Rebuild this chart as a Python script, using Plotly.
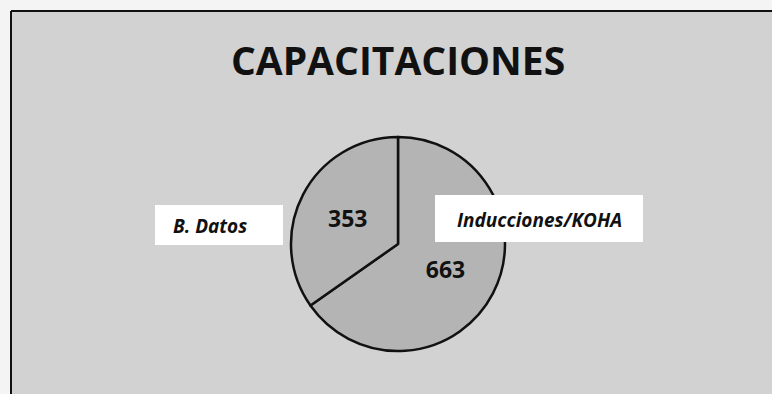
import plotly.graph_objects as go

W, H = 772, 394

labels = ["Inducciones/KOHA", "B. Datos"]
values = [663, 353]
title_text = "CAPACITACIONES"

FONT = "Open Sans, sans-serif"
BG = "#d2d2d2"
PIE_FILL = "#b4b4b4"
INK = "#111111"


def px(x):
    return x / W


def py(y):
    return 1 - y / H


fig = go.Figure(
    go.Pie(
        labels=labels,
        values=values,
        sort=False,
        direction="clockwise",
        rotation=0,
        textinfo="value",
        textposition="inside",
        insidetextorientation="horizontal",
        textfont=dict(family=FONT, size=23, color=INK, weight="bold"),
        marker=dict(colors=[PIE_FILL, PIE_FILL], line=dict(color=INK, width=2.5)),
        domain=dict(x=[px(291), px(505)], y=[py(351), py(137)]),
        showlegend=False,
        hoverinfo="label+value+percent",
    )
)

# scanned page: grey area framed on top and left
fig.add_shape(type="rect", xref="paper", yref="paper",
              x0=px(11), x1=1, y0=0, y1=py(11),
              fillcolor=BG, line_width=0, layer="below")
fig.add_shape(type="line", xref="paper", yref="paper",
              x0=px(11), x1=1, y0=py(11), y1=py(11),
              line=dict(color=INK, width=2))
fig.add_shape(type="line", xref="paper", yref="paper",
              x0=px(11), x1=px(11), y0=0, y1=py(11),
              line=dict(color=INK, width=2))

# white label boxes beside the pie
boxes = {
    "B. Datos": (155, 205, 283, 245, 210, 226),
    "Inducciones/KOHA": (435, 195, 643, 242, 539, 220),
}
for lab in labels:
    x0, y0, x1, y1, tx, ty = boxes[lab]
    fig.add_shape(type="rect", xref="paper", yref="paper",
                  x0=px(x0), x1=px(x1), y0=py(y1), y1=py(y0),
                  fillcolor="white", line_width=0, layer="above")
    fig.add_annotation(xref="paper", yref="paper", x=px(tx), y=py(ty),
                       xanchor="center", yanchor="middle",
                       text=f"<b><i>{lab}</i></b>", showarrow=False,
                       font=dict(family=FONT, size=19, color=INK))

fig.update_layout(
    width=W,
    height=H,
    margin=dict(l=0, r=0, t=0, b=0),
    paper_bgcolor="#f4f4f4",
    plot_bgcolor="#f4f4f4",
    title=dict(
        text=f"<b>{title_text}</b>",
        x=px(398),
        y=py(61),
        xanchor="center",
        yanchor="middle",
        font=dict(family=FONT, size=39, color=INK),
    ),
)

fig.write_html(
    "out.html",
    config={"displayModeBar": False},
    post_script="document.body.style.margin='0';document.body.style.overflow='hidden';",
)
